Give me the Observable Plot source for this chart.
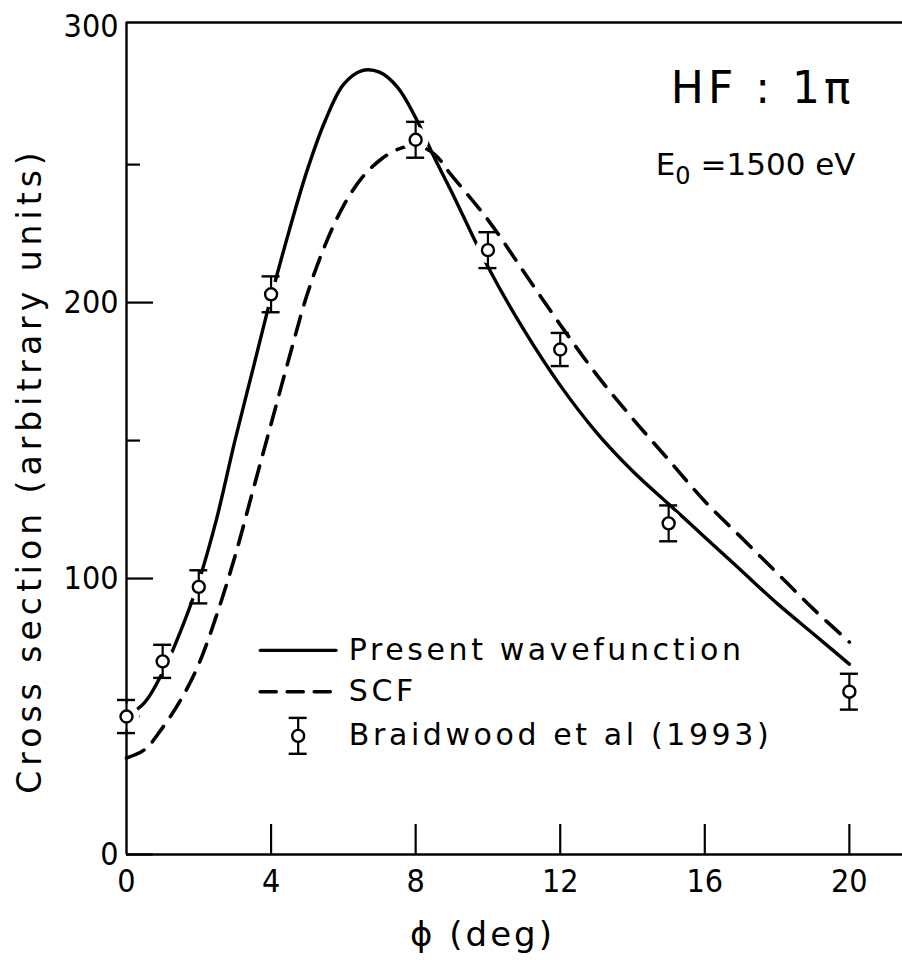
<!DOCTYPE html>
<html>
<head>
<meta charset="utf-8">
<script src="https://cdn.jsdelivr.net/npm/d3@7"></script>
<script src="https://cdn.jsdelivr.net/npm/@observablehq/plot@0.6"></script>
<style>
  html, body { margin: 0; padding: 0; background: #fff; }
  #chart svg { display: block; }
  g.legtext text { letter-spacing: 3.6px; }
  g.title text { letter-spacing: 4px; }
  g.ylab text { letter-spacing: 5px; }
  g.xlab text { letter-spacing: 3px; }
</style>
</head>
<body>
<div id="chart"></div>
<script>
// ---- data ----
const presentX = [0, 0.5, 1, 1.5, 2, 2.5, 3, 3.5, 4, 4.5, 5, 5.5, 6, 6.5, 7, 7.5, 8, 8.5, 9, 10, 11, 12, 13, 14, 15, 16, 17, 18, 19, 20];
const presentY = [50, 55, 66, 81, 99, 122, 150, 176, 202, 226, 248, 266, 279, 284, 283.5, 278, 267, 253, 240, 213, 190, 170, 153, 139, 127, 115, 103, 91, 80, 69];
const scfX = [0, 0.5, 1, 1.5, 2, 2.5, 3, 3.5, 4, 4.5, 5, 5.5, 6, 6.5, 7, 7.5, 8, 8.5, 9, 10, 11, 12, 13, 14, 15, 16, 17, 18, 19, 20];
const scfY = [35, 38, 46, 56, 69, 87, 108, 132, 156, 180, 203, 221, 235, 245, 251.5, 255.5, 257, 254, 246, 230, 211, 192, 174, 158, 143, 128, 115, 102, 89, 77];
const expX = [0, 1, 2, 4, 8, 10, 12, 15, 20];
const expY = [50, 70, 97, 203, 259, 219, 183, 120, 59];
const expErr = [6, 6, 6, 6.5, 6.5, 6.5, 6, 6.5, 6.5];
const xTicks = [0, 4, 8, 12, 16, 20];
const yTickLabels = [0, 100, 200, 300];
const yTicks = [0, 50, 100, 150, 200, 250];
const legendLabels = ["Present wavefunction", "SCF", "Braidwood et al (1993)"];
const titleText = "HF : 1\u03c0";
const energyMain = "E";
const energySub = "0";
const energyRest = " =1500 eV";
const xLabel = "\u03d5 (deg)";
const yLabel = "Cross section (arbitrary units)";

// ---- layout ----
const W = 902, H = 960;
const mL = 126, mR = 0, mT = 22, mB = 106;
const xDomain = [0, 21.47];
const yDomain = [0, 301.5];
const pxX = (W - mL - mR) / (xDomain[1] - xDomain[0]);
const pxY = (H - mT - mB) / (yDomain[1] - yDomain[0]);
const FONT = "'DejaVu Sans', sans-serif";
const FONT_NUM = "'DejaVu Sans Condensed', 'DejaVu Sans', sans-serif";
const capHalf = 9 / pxX;
// legend placement (data units)
const legX1 = 3.7, legX2 = 5.8, legTextX = 6.15;
const legY = [74, 59, 43];

const present = presentX.map((x, i) => ({x, y: presentY[i]}));
const scf = scfX.map((x, i) => ({x, y: scfY[i]}));
const exp = expX.map((x, i) => ({x, y: expY[i], e: expErr[i]}));
const legendMarker = [{x: (legX1 + legX2) / 2, y: legY[2], e: 6.5}];
const allMarkers = exp.concat(legendMarker);

const chart = Plot.plot({
  width: W, height: H,
  marginLeft: mL, marginRight: mR, marginTop: mT, marginBottom: mB,
  style: {fontFamily: FONT, background: "white", color: "black"},
  x: {domain: xDomain, axis: null},
  y: {domain: yDomain, axis: null},
  marks: [
    // frame (left, bottom, top)
    Plot.ruleX([0], {stroke: "black", strokeWidth: 2.4}),
    Plot.ruleY([0, yDomain[1]], {stroke: "black", strokeWidth: 2.4}),
    // inward ticks
    Plot.ruleY(yTicks, {y: d => d, x1: 0, x2: d => (d % 100 === 0 ? 27 : 14) / pxX, stroke: "black", strokeWidth: 2.2}),
    Plot.ruleX(xTicks.slice(1), {x: d => d, y1: 0, y2: 30 / pxY, stroke: "black", strokeWidth: 2.2}),
    // tick labels
    Plot.axisY({ticks: yTickLabels, tickSize: 0, tickPadding: 8, fontSize: 32, fontFamily: FONT_NUM, label: null, tickFormat: d => String(d)}),
    Plot.axisX({ticks: xTicks, tickSize: 0, tickPadding: 15, fontSize: 32, fontFamily: FONT_NUM, label: null, tickFormat: d => String(d)}),
    // curves
    Plot.line(present, {x: "x", y: "y", curve: "catmull-rom", stroke: "black", strokeWidth: 3.4}),
    Plot.line(scf, {x: "x", y: "y", curve: "catmull-rom", stroke: "black", strokeWidth: 3.6, strokeDasharray: "19,12"}),
    // legend lines
    Plot.line([{x: legX1, y: legY[0]}, {x: legX2, y: legY[0]}], {x: "x", y: "y", stroke: "black", strokeWidth: 3.2}),
    Plot.line([{x: legX1, y: legY[1]}, {x: legX2, y: legY[1]}], {x: "x", y: "y", stroke: "black", strokeWidth: 3.6, strokeDasharray: "16,11"}),
    // white halos (gaps in lines around markers)
    Plot.dot(exp, {x: "x", y: "y", r: 13, fill: "white", stroke: "none"}),
    // error bars
    Plot.ruleX(allMarkers, {x: "x", y1: d => d.y - d.e, y2: d => d.y + d.e, stroke: "black", strokeWidth: 2.2}),
    Plot.ruleY(allMarkers, {y: d => d.y + d.e, x1: d => d.x - capHalf, x2: d => d.x + capHalf, stroke: "black", strokeWidth: 2.4}),
    Plot.ruleY(allMarkers, {y: d => d.y - d.e, x1: d => d.x - capHalf, x2: d => d.x + capHalf, stroke: "black", strokeWidth: 2.4}),
    Plot.dot(allMarkers, {x: "x", y: "y", r: 6, fill: "white", stroke: "black", strokeWidth: 2.4}),
    // legend text
    Plot.text(legendLabels, {x: legTextX, y: (d, i) => legY[i], text: d => d, textAnchor: "start", lineAnchor: "middle", fontSize: 30, className: "legtext"}),
    // annotations
    Plot.text([titleText], {frameAnchor: "top-right", dx: -48, dy: 66, textAnchor: "end", lineAnchor: "middle", fontSize: 44, className: "title"}),
    Plot.text([energyMain + energySub + energyRest], {frameAnchor: "top-right", dx: -47, dy: 143, textAnchor: "end", lineAnchor: "middle", fontSize: 31, className: "energy"}),
    // axis titles
    Plot.text([yLabel], {frameAnchor: "left", dx: -96, dy: 32, rotate: -90, textAnchor: "middle", lineAnchor: "middle", fontSize: 33, className: "ylab"}),
    Plot.text([xLabel], {frameAnchor: "bottom", dx: -32, dy: 81, textAnchor: "middle", lineAnchor: "middle", fontSize: 34, className: "xlab"})
  ]
});
document.getElementById("chart").appendChild(chart);

// subscript for E0
const et = chart.querySelector("g.energy text");
if (et) {
  et.textContent = "";
  const ns = "http://www.w3.org/2000/svg";
  const a = document.createElementNS(ns, "tspan"); a.textContent = energyMain;
  const b = document.createElementNS(ns, "tspan"); b.textContent = energySub; b.setAttribute("dy", "9"); b.setAttribute("font-size", "24");
  const c = document.createElementNS(ns, "tspan"); c.textContent = energyRest; c.setAttribute("dy", "-9");
  et.append(a, b, c);
}
</script>
</body>
</html>
